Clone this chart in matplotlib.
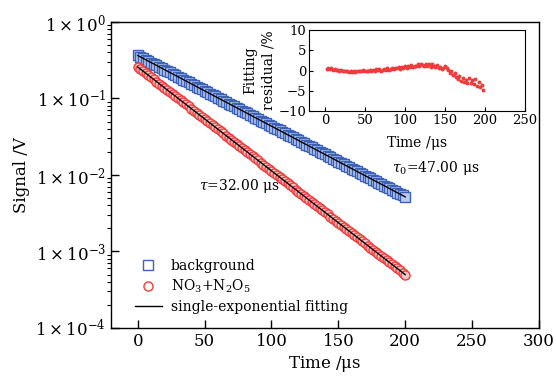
import numpy as np
import matplotlib
matplotlib.use("Agg")
import matplotlib.pyplot as plt
from matplotlib.ticker import FixedLocator, FuncFormatter, LogLocator, NullFormatter

plt.rcParams["font.family"] = "DejaVu Serif"
plt.rcParams["mathtext.fontset"] = "dejavuserif"

# time axis of the decay traces (us)
time_us = list(range(0, 201, 2))

# background ring-down signal (V)
background = [
    0.365, 0.3498, 0.3352, 0.3213, 0.3079, 0.295, 0.2828, 0.271, 0.2597, 0.2489,
    0.2385, 0.2286, 0.219, 0.2099, 0.2012, 0.1928, 0.1848, 0.1771, 0.1697, 0.1626,
    0.1558, 0.1493, 0.1431, 0.1372, 0.1314, 0.126, 0.1207, 0.1157, 0.1109, 0.1063,
    0.1018, 0.09759, 0.09352, 0.08963, 0.08589, 0.08231, 0.07888, 0.07559, 0.07244, 0.06942,
    0.06652, 0.06375, 0.06109, 0.05854, 0.0561, 0.05376, 0.05152, 0.04937, 0.04731, 0.04534,
    0.04348, 0.04167, 0.03993, 0.03827, 0.03667, 0.03514, 0.03368, 0.03227, 0.03093, 0.02964,
    0.0284, 0.02723, 0.02609, 0.025, 0.02396, 0.02296, 0.022, 0.02109, 0.02021, 0.01937,
    0.01856, 0.01779, 0.01704, 0.01633, 0.01565, 0.015, 0.01437, 0.01377, 0.0132, 0.01265,
    0.01212, 0.01162, 0.01114, 0.01067, 0.01023, 0.0098, 0.00939, 0.009, 0.008625, 0.008265,
    0.00792, 0.007593, 0.007276, 0.006973, 0.006682, 0.006403, 0.006136, 0.00588, 0.005635, 0.0054,
    0.005175,
]

# NO3 + N2O5 ring-down signal (V)
no3_n2o5 = [
    0.258, 0.2424, 0.2277, 0.2139, 0.2009, 0.1887, 0.1773, 0.1666, 0.1565, 0.147,
    0.1381, 0.1297, 0.1219, 0.1145, 0.1076, 0.101, 0.09491, 0.08916, 0.08376, 0.07869,
    0.07392, 0.06944, 0.06523, 0.06128, 0.05757, 0.05408, 0.0508, 0.04773, 0.04483, 0.04212,
    0.03957, 0.03717, 0.03492, 0.0328, 0.03081, 0.02895, 0.02719, 0.02555, 0.024, 0.02254,
    0.02118, 0.01989, 0.01869, 0.01756, 0.01649, 0.01549, 0.01456, 0.01367, 0.01285, 0.01207,
    0.01134, 0.01065, 0.01, 0.009398, 0.008828, 0.008293, 0.007791, 0.007319, 0.006875, 0.006459,
    0.006068, 0.0057, 0.005355, 0.00503, 0.004725, 0.004439, 0.00417, 0.003918, 0.00368, 0.003457,
    0.003248, 0.003051, 0.002866, 0.002692, 0.002529, 0.002376, 0.002232, 0.002097, 0.00197, 0.001851,
    0.001738, 0.001633, 0.001534, 0.001441, 0.001354, 0.001272, 0.001195, 0.001122, 0.001054, 0.0009905,
    0.0009305, 0.0008741, 0.0008212, 0.0007714, 0.0007247, 0.0006808, 0.0006395, 0.0006008, 0.0005644, 0.0005302,
    0.0004981,
]

# fitting residual (%) for the inset
resid_time = list(range(2, 199, 2))
residual = [
    0.3, 0.5, 0.4, 0.6, 0.2, 0.3, 0.1, 0.2, 0.0, 0.1,
    -0.1, 0.0, -0.2, -0.1, -0.3, -0.2, -0.4, -0.2, -0.3, -0.1,
    -0.2, 0.0, -0.1, 0.1, -0.1, 0.0, -0.2, 0.1, 0.0, 0.2,
    -0.1, 0.3, 0.1, 0.4, 0.0, 0.2, 0.3, 0.1, 0.5, 0.2,
    0.4, 0.6, 0.3, 0.7, 0.5, 0.8, 0.4, 0.9, 0.6, 1.0,
    0.7, 1.1, 0.8, 1.3, 0.9, 1.2, 1.0, 1.5, 1.1, 1.7,
    1.3, 1.0, 1.6, 1.2, 1.5, 0.9, 1.6, 1.1, 0.8, 1.3,
    0.6, 0.9, 0.4, 0.7, 1.0, 0.6, 0.1, -0.5, -0.2, -1.0,
    -0.6, -1.6, -2.2, -1.3, -2.5, -1.8, -2.9, -2.3, -3.1, -1.8,
    -3.0, -2.4, -3.4, -2.2, -3.8, -2.9, -4.0, -3.6, -4.7,
]

blue = "#3b62b8"
red = "#ee3b3b"

fig = plt.figure(figsize=(5.56, 3.76), dpi=100)
ax = fig.add_axes([0.1996, 0.1277, 0.7698, 0.8138])

ax.plot(time_us, background, "s", ms=6.5, mfc="#b9c9ec", mec=blue, mew=1.0,
        label="background")
ax.plot(time_us, no3_n2o5, "o", ms=6.5, mfc="#f8c4c4", mec=red, mew=1.0,
        label=r"NO$_3$+N$_2$O$_5$")
ax.plot(time_us, background, "k-", lw=1.0, label="single-exponential fitting")
ax.plot(time_us, no3_n2o5, "k-", lw=1.0)

ax.set_yscale("log")
ax.set_xlim(-20, 300)
ax.set_ylim(1e-4, 1)
ax.xaxis.set_major_locator(FixedLocator([0, 50, 100, 150, 200, 250, 300]))
ax.yaxis.set_major_locator(FixedLocator([1e-4, 1e-3, 1e-2, 1e-1, 1]))
ax.yaxis.set_major_formatter(FuncFormatter(
    lambda v, p: r"$1\times10^{%d}$" % int(round(np.log10(v)))))
ax.yaxis.set_minor_locator(LogLocator(base=10, subs=np.arange(2, 10), numticks=20))
ax.yaxis.set_minor_formatter(NullFormatter())
ax.tick_params(direction="in", labelsize=12, top=False, right=False)
ax.tick_params(which="major", length=6, width=1.0)
ax.tick_params(which="minor", length=3, width=0.8)
for s in ax.spines.values():
    s.set_linewidth(1.0)
ax.set_xlabel(r"Time /$\mathrm{\mu}$s", fontsize=12, labelpad=3)
ax.set_ylabel("Signal /V", fontsize=12, labelpad=4)

ax.text(190, 0.0125, r"$\tau_0$=47.00 $\mathrm{\mu}$s", fontsize=10, va="center")
ax.text(46, 0.0072, r"$\tau$=32.00 $\mathrm{\mu}$s", fontsize=10, va="center")

leg = ax.legend(loc="lower left", bbox_to_anchor=(0.055, 0.045), frameon=False,
                fontsize=10, handlelength=2.0, handletextpad=0.6, labelspacing=0.35,
                borderaxespad=0.0, borderpad=0.0)
# hollow markers in the legend
for h in leg.legend_handles[:2]:
    h.set_markerfacecolor("white")

# inset with fitting residual
ins = fig.add_axes([0.5558, 0.7048, 0.3885, 0.2154])
ins.plot(resid_time, residual, "o", ms=1.8, color=red, mec=red)
ins.set_xlim(-20, 250)
ins.set_ylim(-10, 10)
ins.xaxis.set_major_locator(FixedLocator([0, 50, 100, 150, 200, 250]))
ins.yaxis.set_major_locator(FixedLocator([-10, -5, 0, 5, 10]))
ins.tick_params(direction="in", labelsize=9.5, length=3, top=False, right=False, pad=2)
ins.set_xlabel(r"Time /$\mathrm{\mu}$s", fontsize=10, labelpad=5)
ins.set_ylabel("Fitting\nresidual /%", fontsize=10, labelpad=2, linespacing=1.4)

fig.savefig("out.png", dpi=100)
